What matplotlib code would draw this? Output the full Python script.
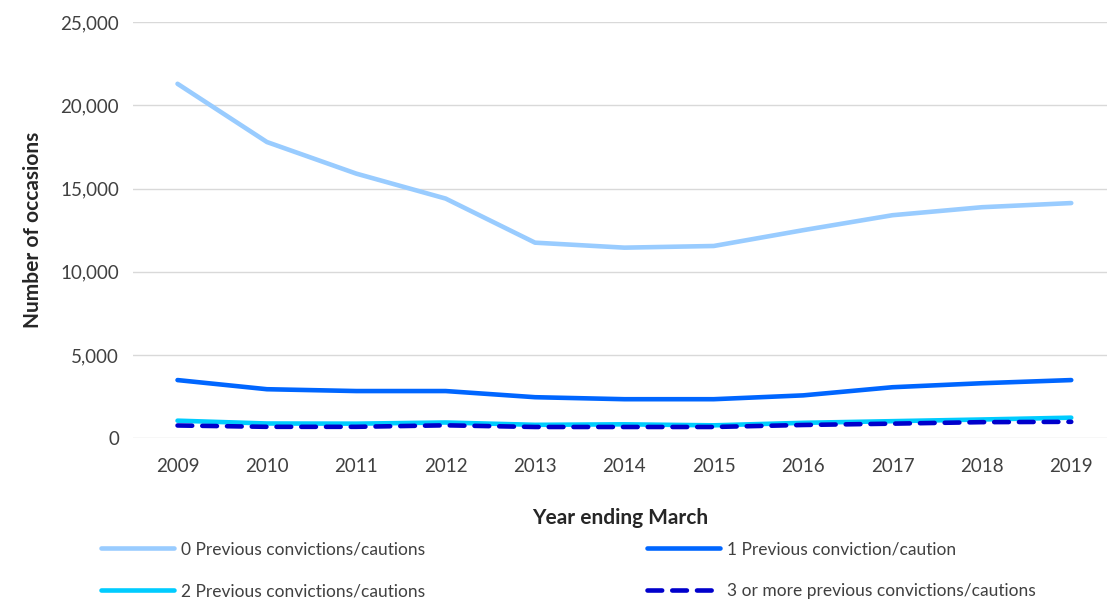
import matplotlib.pyplot as plt
from matplotlib.ticker import FuncFormatter

plt.rcParams['font.family'] = ['Lato', 'DejaVu Sans']

# data
years = ['2009', '2010', '2011', '2012', '2013', '2014', '2015', '2016', '2017', '2018', '2019']
prev_0 = [21300, 17800, 15900, 14400, 11750, 11450, 11550, 12500, 13400, 13880, 14130]
prev_1 = [3490, 2940, 2830, 2830, 2460, 2340, 2340, 2570, 3060, 3300, 3490]
prev_2 = [1050, 880, 870, 940, 800, 830, 770, 920, 1020, 1120, 1230]
prev_3 = [760, 680, 680, 770, 670, 670, 670, 790, 870, 960, 980]

labels = ['0 Previous convictions/cautions', '1 Previous conviction/caution',
          '2 Previous convictions/cautions', '3 or more previous convictions/cautions']

fig = plt.figure(figsize=(11.07, 6.01), dpi=100)
ax = fig.add_axes([0.120, 0.271, 0.880, 0.692])

x = list(range(len(years)))
l0, = ax.plot(x, prev_0, color='#99CCFF', lw=3.3, solid_capstyle='round', label=labels[0])
l1, = ax.plot(x, prev_1, color='#0066FF', lw=3.3, solid_capstyle='round', label=labels[1])
l2, = ax.plot(x, prev_2, color='#00CCFF', lw=3.3, solid_capstyle='round', label=labels[2])
l3, = ax.plot(x, prev_3, color='#0000CC', lw=3.3, dashes=(3.2, 2.2),
              dash_capstyle='round', label=labels[3])

ax.set_xlim(-0.5, 10.4)
ax.set_ylim(0, 25000)
ax.set_yticks(range(0, 25001, 5000))
ax.yaxis.set_major_formatter(FuncFormatter(lambda v, p: f'{int(v):,}'))
ax.set_xticks(x)
ax.set_xticklabels(years)
ax.grid(axis='y', color='#d9d9d9', lw=1)
ax.set_axisbelow(True)
for s in ax.spines.values():
    s.set_visible(False)
ax.tick_params(length=0, labelsize=13.5, colors='#404040', pad=10)
ax.tick_params(axis='x', pad=14)

ax.set_ylabel('Number of occasions', fontsize=15, fontweight='bold', color='#262626', labelpad=12)
ax.set_xlabel('Year ending March', fontsize=15, fontweight='bold', color='#262626', labelpad=24)

# row-wise order: matplotlib fills legend columns first
fig.legend(handles=[l0, l2, l1, l3], loc='upper left', bbox_to_anchor=(0.080, 0.12),
           ncol=2, frameon=False, fontsize=12.5, handlelength=4.2, handletextpad=0.4,
           columnspacing=12.8, labelspacing=1.5, labelcolor='#404040', borderpad=0.2)

fig.savefig('out.png', dpi=100)
